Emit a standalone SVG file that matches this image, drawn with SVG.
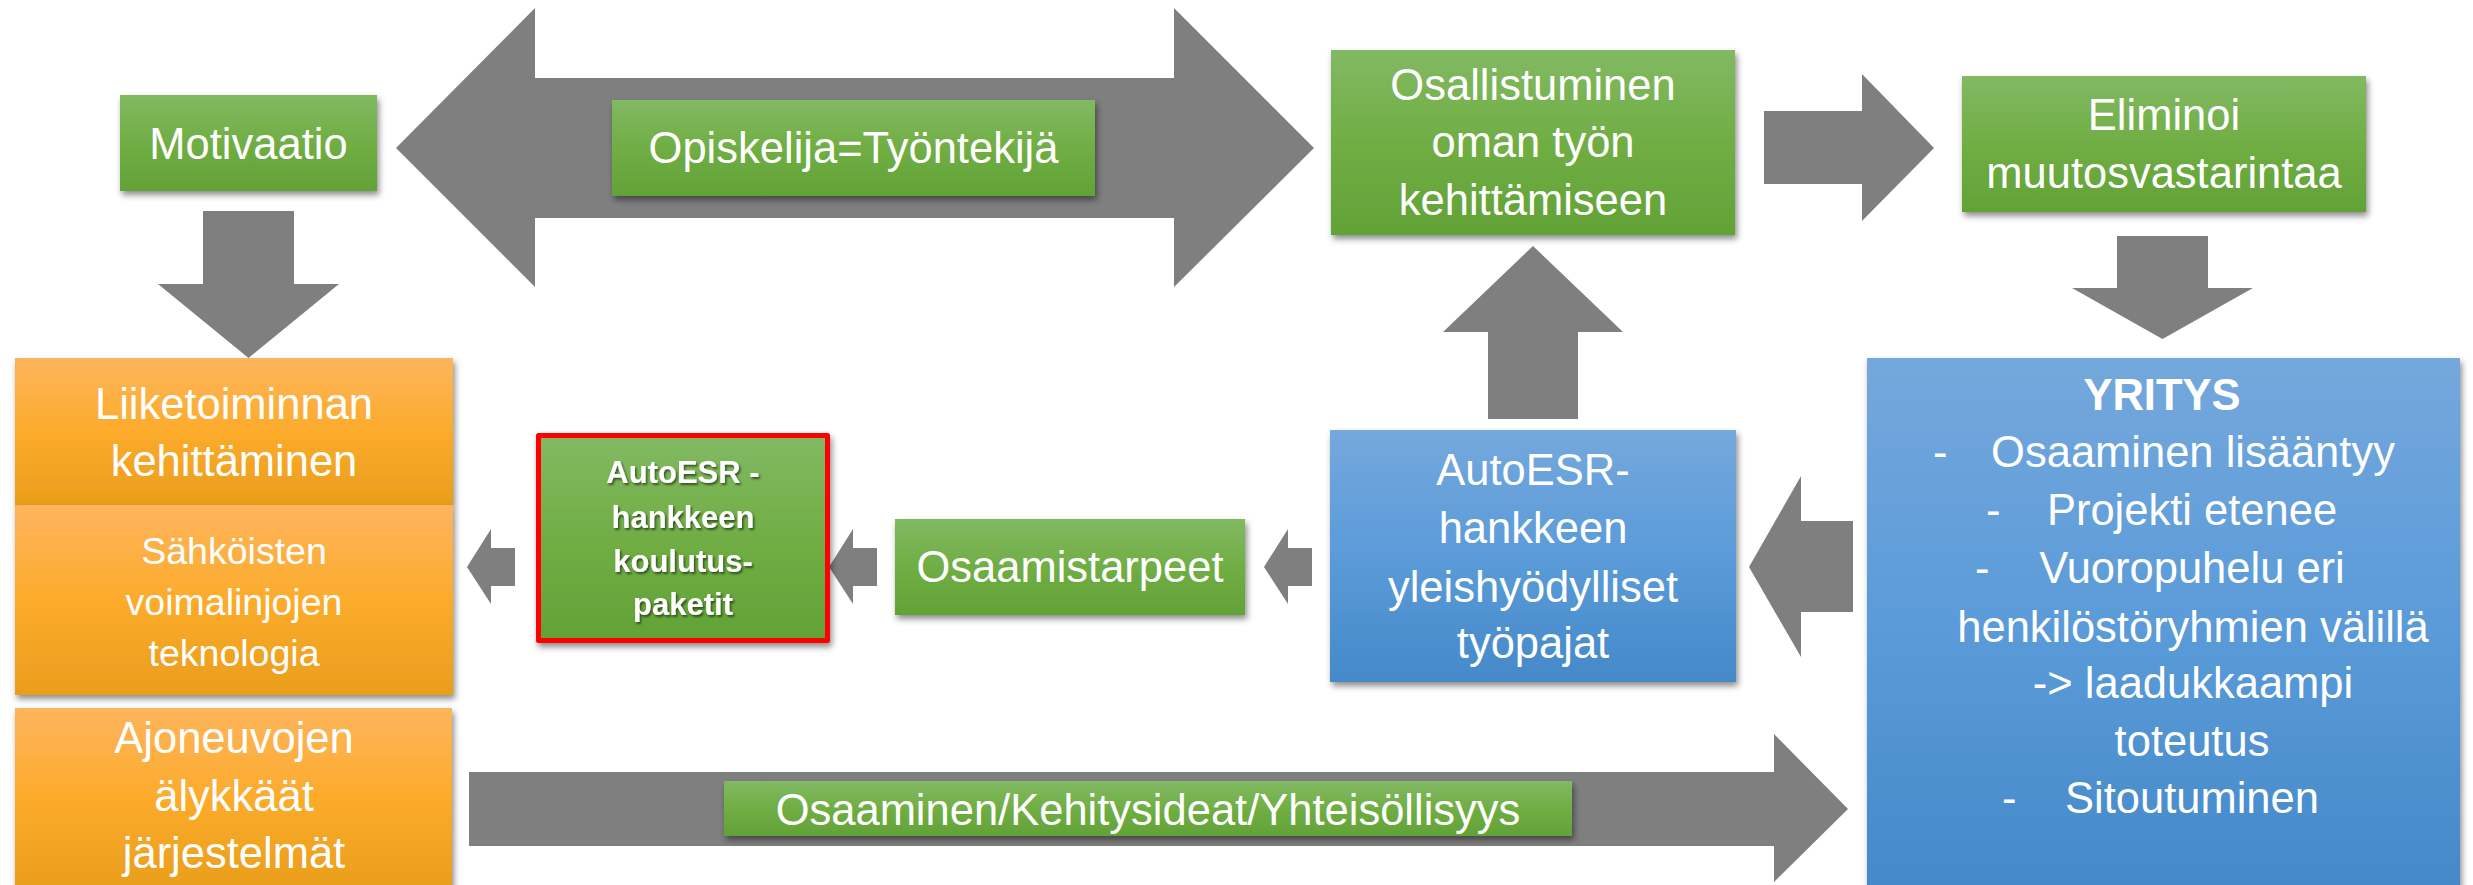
<svg xmlns="http://www.w3.org/2000/svg" width="2473" height="885" viewBox="0 0 2473 885">
<defs>
<linearGradient id="gGreen" x1="0" y1="0" x2="0" y2="1">
<stop offset="0" stop-color="#82b963"/><stop offset="0.5" stop-color="#70ae44"/><stop offset="1" stop-color="#62a236"/>
</linearGradient>
<linearGradient id="gOrange" x1="0" y1="0" x2="0" y2="1">
<stop offset="0" stop-color="#fdb55d"/><stop offset="0.5" stop-color="#fcab2b"/><stop offset="1" stop-color="#e99e1c"/>
</linearGradient>
<linearGradient id="gBlue" x1="0" y1="0" x2="0" y2="1">
<stop offset="0" stop-color="#74a8dc"/><stop offset="0.5" stop-color="#5b9bd9"/><stop offset="1" stop-color="#4589c8"/>
</linearGradient>
<filter id="sh" x="-10%" y="-10%" width="120%" height="130%">
<feDropShadow dx="2" dy="4" stdDeviation="3" flood-color="#000" flood-opacity="0.45"/>
</filter>
<filter id="tsh" x="-10%" y="-20%" width="120%" height="150%">
<feDropShadow dx="1.5" dy="2" stdDeviation="1" flood-color="#000" flood-opacity="0.55"/>
</filter>
</defs>
<style>
.arrow{fill:#7f7f7f}
.green{fill:url(#gGreen)}
.orange{fill:url(#gOrange)}
.blue{fill:url(#gBlue)}
.box{filter:url(#sh)}
.t{font-family:"Liberation Sans",Arial,sans-serif;fill:#ffffff;text-anchor:middle;font-size:43.5px}
.s{font-size:37.5px}
.b{font-weight:bold}
.rb{font-size:31px;font-weight:bold;filter:url(#tsh)}
.st{text-anchor:start}
</style>
<rect x="0" y="0" width="2473" height="885" fill="#ffffff"/>

<g id="connectors">
<path class="arrow" d="M396,148 L535,8 L535,78 L1174,78 L1174,8 L1314,148 L1174,287 L1174,218 L535,218 L535,287 Z"/>
<path class="arrow" d="M203,211 H294 V284 H339 L248.5,358 L158,284 H203 Z"/>
<path class="arrow" d="M1764,111 H1862 V74 L1934,148 L1862,221 V184 H1764 Z"/>
<path class="arrow" d="M2117,236 H2208 V288 H2253 L2162.5,339 L2072,288 H2117 Z"/>
<path class="arrow" d="M1533,246 L1623,332 H1578 V419 H1488 V332 H1443 Z"/>
<path class="arrow" d="M1749,567 L1801,476 V521 H1853 V612 H1801 V657 Z"/>
<path class="arrow" d="M1264,567 L1288,529 V548 H1312 V586 H1288 V604 Z"/>
<path class="arrow" d="M829,567 L853,529 V548 H877 V586 H853 V604 Z"/>
<path class="arrow" d="M467,567 L491,529 V548 H515 V586 H491 V604 Z"/>
<path class="arrow" d="M469,772 H1774 V734 L1848,809 L1774,882 V846 H469 Z"/>
</g>

<g id="motivaatio">
<rect class="green box" x="120" y="95" width="257" height="96"/>
<text class="t" x="248.5" y="159">Motivaatio</text>
</g>

<g id="opiskelija">
<rect class="green box" x="612" y="100" width="483" height="96"/>
<text class="t" x="853.5" y="163">Opiskelija=Työntekijä</text>
</g>

<g id="osallistuminen">
<rect class="green box" x="1331" y="50" width="404" height="185"/>
<text class="t" x="1533" y="100">Osallistuminen</text>
<text class="t" x="1533" y="157">oman työn</text>
<text class="t" x="1533" y="215">kehittämiseen</text>
</g>

<g id="eliminoi">
<rect class="green box" x="1962" y="76" width="404" height="136"/>
<text class="t" x="2164" y="130">Eliminoi</text>
<text class="t" x="2164" y="188">muutosvastarintaa</text>
</g>

<g id="liiketoiminnan">
<rect class="orange box" x="15" y="358" width="438" height="147"/>
<text class="t" x="234" y="419">Liiketoiminnan</text>
<text class="t" x="234" y="476">kehittäminen</text>
</g>

<g id="sahkoisten">
<rect class="orange box" x="15" y="505" width="438" height="190"/>
<text class="t s" x="234" y="564">Sähköisten</text>
<text class="t s" x="234" y="615">voimalinjojen</text>
<text class="t s" x="234" y="666">teknologia</text>
</g>

<g id="ajoneuvojen">
<rect class="orange box" x="15" y="708" width="437" height="180"/>
<text class="t" x="234" y="753">Ajoneuvojen</text>
<text class="t" x="234" y="811">älykkäät</text>
<text class="t" x="234" y="868">järjestelmät</text>
</g>

<g id="koulutuspaketit">
<rect class="green box" x="538.5" y="435.5" width="289" height="205" stroke="#ff0000" stroke-width="5" stroke-linejoin="round"/>
<text class="t rb" x="683" y="483">AutoESR -</text>
<text class="t rb" x="683" y="528">hankkeen</text>
<text class="t rb" x="683" y="572">koulutus-</text>
<text class="t rb" x="683" y="615">paketit</text>
</g>

<g id="osaamistarpeet">
<rect class="green box" x="895" y="519" width="350" height="96"/>
<text class="t" x="1070" y="582">Osaamistarpeet</text>
</g>

<g id="tyopajat">
<rect class="blue box" x="1330" y="430" width="406" height="252"/>
<text class="t" x="1533" y="485">AutoESR-</text>
<text class="t" x="1533" y="543">hankkeen</text>
<text class="t" x="1533" y="602">yleishyödylliset</text>
<text class="t" x="1533" y="658">työpajat</text>
</g>

<g id="osaaminen-kehitys">
<rect class="green box" x="724" y="781" width="848" height="55"/>
<text class="t" x="1148" y="825">Osaaminen/Kehitysideat/Yhteisöllisyys</text>
</g>

<g id="yritys">
<rect class="blue box" x="1867" y="358" width="593" height="530"/>
<text class="t b" x="2162" y="410">YRITYS</text>
<text class="t st" x="1933" y="467">-</text>
<text class="t" x="2193" y="467">Osaaminen lisääntyy</text>
<text class="t st" x="1986" y="525">-</text>
<text class="t" x="2192" y="525">Projekti etenee</text>
<text class="t st" x="1975" y="583">-</text>
<text class="t" x="2192" y="583">Vuoropuhelu eri</text>
<text class="t" x="2193" y="642">henkilöstöryhmien välillä</text>
<text class="t" x="2193" y="698">-&gt; laadukkaampi</text>
<text class="t" x="2192" y="756">toteutus</text>
<text class="t st" x="2002" y="813">-</text>
<text class="t" x="2192" y="813">Sitoutuminen</text>
</g>
</svg>
